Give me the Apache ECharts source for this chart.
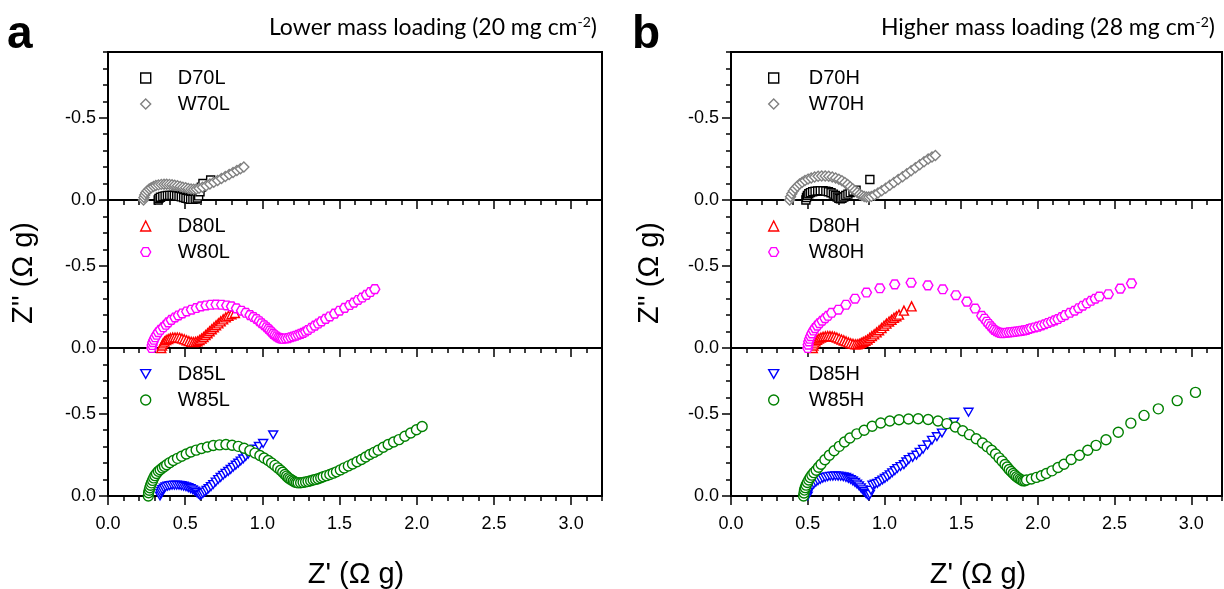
<!DOCTYPE html>
<html>
<head>
<meta charset="utf-8">
<script src="https://cdn.jsdelivr.net/npm/echarts@6/dist/echarts.min.js"></script>
<style>
html,body{margin:0;padding:0;background:#fff;}
#chart{width:1224px;height:589px;}
</style>
</head>
<body>
<div id="chart"></div>
<script>
// ---------- tick labels ----------
const X_MAJOR = [0, 0.5, 1.0, 1.5, 2.0, 2.5, 3.0];
const Y_MAJOR = [-0.5, 0];
const PANEL_TITLES = ['Lower mass loading (20 mg cm', 'Higher mass loading (28 mg cm'];
const X_TITLE = "Z' (\u03A9 g)";
const Y_TITLE = "Z'' (\u03A9 g)";

// ---------- series names ----------
const NAMES_A = [['D70L', 'W70L'], ['D80L', 'W80L'], ['D85L', 'W85L']];
const NAMES_B = [['D70H', 'W70H'], ['D80H', 'W80H'], ['D85H', 'W85H']];

// ---------- data [Z', Z''] ----------
const D70L = [[0.325,0],[0.33,-0.01],[0.34,-0.017],[0.355,-0.022],[0.37,-0.025],[0.385,-0.027],[0.40,-0.028],[0.415,-0.028],[0.43,-0.027],[0.445,-0.025],[0.46,-0.022],[0.475,-0.019],[0.49,-0.015],[0.505,-0.011],[0.52,-0.008],[0.535,-0.005],[0.55,-0.004],[0.565,-0.006],[0.578,-0.012],[0.587,-0.025],[0.596,-0.05],[0.605,-0.078],[0.615,-0.1],[0.665,-0.122]];
const W70L = [[0.23,0],[0.233,-0.015],[0.238,-0.03],[0.245,-0.044],[0.255,-0.056],[0.267,-0.067],[0.28,-0.075],[0.295,-0.082],[0.31,-0.088],[0.327,-0.092],[0.345,-0.095],[0.363,-0.096],[0.38,-0.096],[0.398,-0.095],[0.415,-0.093],[0.432,-0.09],[0.45,-0.086],[0.468,-0.082],[0.485,-0.078],[0.503,-0.074],[0.52,-0.07],[0.538,-0.067],[0.555,-0.066],[0.572,-0.067],[0.59,-0.071],[0.612,-0.078],[0.636,-0.087],[0.66,-0.097],[0.685,-0.108],[0.71,-0.119],[0.735,-0.131],[0.76,-0.143],[0.785,-0.155],[0.81,-0.167],[0.835,-0.179],[0.858,-0.19],[0.88,-0.2]];
const D80L = [[0.345,0],[0.35,-0.015],[0.357,-0.028],[0.366,-0.039],[0.377,-0.048],[0.39,-0.055],[0.404,-0.06],[0.419,-0.063],[0.434,-0.064],[0.449,-0.064],[0.464,-0.062],[0.479,-0.058],[0.494,-0.053],[0.509,-0.047],[0.524,-0.042],[0.539,-0.038],[0.553,-0.036],[0.567,-0.037],[0.58,-0.041],[0.593,-0.048],[0.606,-0.057],[0.619,-0.067],[0.632,-0.078],[0.645,-0.09],[0.658,-0.102],[0.672,-0.114],[0.686,-0.126],[0.7,-0.138],[0.715,-0.15],[0.73,-0.162],[0.746,-0.174],[0.763,-0.186],[0.78,-0.196],[0.8,-0.205],[0.822,-0.213]];
const W80L = [[0.283,0],[0.286,-0.018],[0.29,-0.035],[0.297,-0.05],[0.305,-0.065],[0.315,-0.08],[0.326,-0.096],[0.34,-0.111],[0.358,-0.126],[0.375,-0.141],[0.39,-0.156],[0.41,-0.171],[0.434,-0.186],[0.456,-0.198],[0.481,-0.21],[0.51,-0.222],[0.541,-0.233],[0.572,-0.243],[0.602,-0.253],[0.635,-0.259],[0.667,-0.263],[0.7,-0.264],[0.736,-0.263],[0.769,-0.259],[0.8,-0.253],[0.832,-0.241],[0.865,-0.227],[0.893,-0.214],[0.92,-0.2],[0.942,-0.188],[0.962,-0.176],[0.98,-0.163],[0.995,-0.15],[1.012,-0.138],[1.027,-0.126],[1.039,-0.116],[1.049,-0.106],[1.06,-0.096],[1.07,-0.086],[1.081,-0.078],[1.092,-0.07],[1.103,-0.064],[1.113,-0.06],[1.124,-0.057],[1.135,-0.056],[1.151,-0.058],[1.167,-0.06],[1.184,-0.065],[1.2,-0.07],[1.216,-0.075],[1.232,-0.08],[1.248,-0.086],[1.264,-0.092],[1.28,-0.1],[1.296,-0.11],[1.318,-0.123],[1.34,-0.136],[1.362,-0.149],[1.383,-0.162],[1.41,-0.177],[1.437,-0.192],[1.468,-0.209],[1.5,-0.227],[1.533,-0.244],[1.566,-0.261],[1.593,-0.276],[1.62,-0.292],[1.647,-0.307],[1.674,-0.323],[1.7,-0.34],[1.728,-0.358]];
const D85L = [[0.337,0],[0.34,-0.015],[0.345,-0.028],[0.352,-0.039],[0.362,-0.048],[0.373,-0.055],[0.386,-0.06],[0.4,-0.063],[0.415,-0.065],[0.43,-0.066],[0.445,-0.066],[0.46,-0.065],[0.475,-0.063],[0.49,-0.06],[0.505,-0.056],[0.52,-0.051],[0.535,-0.045],[0.549,-0.038],[0.562,-0.03],[0.574,-0.021],[0.585,-0.012],[0.595,-0.005],[0.605,-0.008],[0.615,-0.015],[0.627,-0.024],[0.639,-0.034],[0.652,-0.045],[0.667,-0.057],[0.682,-0.07],[0.698,-0.085],[0.714,-0.1],[0.73,-0.113],[0.746,-0.126],[0.762,-0.138],[0.779,-0.15],[0.795,-0.162],[0.811,-0.175],[0.828,-0.188],[0.844,-0.2],[0.86,-0.213],[0.876,-0.226],[0.892,-0.24],[0.908,-0.254],[0.93,-0.27],[0.951,-0.285],[0.978,-0.302],[1.005,-0.32],[1.07,-0.372]];
const W85L = [[0.261,0],[0.263,-0.02],[0.267,-0.035],[0.271,-0.05],[0.276,-0.065],[0.282,-0.08],[0.289,-0.095],[0.296,-0.11],[0.304,-0.124],[0.314,-0.137],[0.326,-0.15],[0.338,-0.16],[0.352,-0.17],[0.366,-0.18],[0.38,-0.19],[0.4,-0.203],[0.423,-0.216],[0.45,-0.229],[0.477,-0.242],[0.507,-0.255],[0.537,-0.268],[0.571,-0.279],[0.606,-0.289],[0.644,-0.298],[0.682,-0.307],[0.723,-0.311],[0.764,-0.313],[0.804,-0.309],[0.844,-0.302],[0.882,-0.29],[0.919,-0.276],[0.952,-0.261],[0.984,-0.246],[1.011,-0.231],[1.038,-0.216],[1.06,-0.201],[1.081,-0.186],[1.1,-0.171],[1.118,-0.157],[1.132,-0.144],[1.146,-0.131],[1.157,-0.121],[1.167,-0.111],[1.178,-0.104],[1.189,-0.097],[1.2,-0.091],[1.21,-0.085],[1.221,-0.082],[1.232,-0.08],[1.248,-0.081],[1.264,-0.083],[1.28,-0.086],[1.296,-0.089],[1.313,-0.093],[1.329,-0.097],[1.345,-0.101],[1.361,-0.105],[1.378,-0.111],[1.394,-0.117],[1.415,-0.124],[1.437,-0.131],[1.459,-0.139],[1.48,-0.147],[1.505,-0.159],[1.53,-0.171],[1.557,-0.183],[1.584,-0.195],[1.613,-0.208],[1.642,-0.222],[1.669,-0.237],[1.696,-0.252],[1.723,-0.265],[1.75,-0.278],[1.783,-0.296],[1.815,-0.313],[1.85,-0.328],[1.885,-0.343],[1.923,-0.363],[1.961,-0.383],[1.998,-0.403],[2.035,-0.423]];

const D70H = [[0.488,0],[0.492,-0.015],[0.498,-0.028],[0.507,-0.038],[0.518,-0.045],[0.532,-0.05],[0.548,-0.053],[0.565,-0.055],[0.582,-0.056],[0.6,-0.056],[0.618,-0.054],[0.635,-0.05],[0.652,-0.044],[0.667,-0.036],[0.68,-0.027],[0.692,-0.018],[0.703,-0.011],[0.713,-0.008],[0.723,-0.011],[0.735,-0.018],[0.748,-0.027],[0.762,-0.036],[0.777,-0.045],[0.795,-0.053],[0.815,-0.06],[0.905,-0.125]];
const W70H = [[0.382,0],[0.388,-0.02],[0.396,-0.038],[0.406,-0.055],[0.418,-0.07],[0.432,-0.084],[0.447,-0.097],[0.464,-0.108],[0.482,-0.118],[0.502,-0.127],[0.523,-0.134],[0.545,-0.14],[0.568,-0.144],[0.591,-0.146],[0.614,-0.146],[0.637,-0.144],[0.66,-0.14],[0.682,-0.134],[0.703,-0.126],[0.723,-0.117],[0.742,-0.106],[0.76,-0.094],[0.777,-0.081],[0.793,-0.068],[0.808,-0.056],[0.823,-0.045],[0.838,-0.035],[0.853,-0.027],[0.868,-0.021],[0.883,-0.018],[0.898,-0.018],[0.915,-0.022],[0.935,-0.03],[0.958,-0.042],[0.982,-0.056],[1.008,-0.072],[1.035,-0.089],[1.062,-0.106],[1.09,-0.124],[1.118,-0.142],[1.146,-0.16],[1.174,-0.178],[1.202,-0.196],[1.23,-0.214],[1.258,-0.232],[1.285,-0.25],[1.31,-0.262],[1.332,-0.27]];
const D80H = [[0.533,0],[0.537,-0.015],[0.543,-0.028],[0.551,-0.04],[0.561,-0.05],[0.573,-0.058],[0.586,-0.064],[0.6,-0.068],[0.615,-0.071],[0.63,-0.072],[0.645,-0.072],[0.66,-0.071],[0.675,-0.068],[0.69,-0.064],[0.705,-0.058],[0.72,-0.052],[0.735,-0.046],[0.75,-0.04],[0.765,-0.034],[0.78,-0.029],[0.795,-0.025],[0.81,-0.023],[0.823,-0.023],[0.836,-0.026],[0.849,-0.031],[0.862,-0.037],[0.876,-0.044],[0.89,-0.052],[0.904,-0.062],[0.918,-0.072],[0.933,-0.083],[0.949,-0.095],[0.965,-0.108],[0.981,-0.121],[0.997,-0.135],[1.013,-0.148],[1.03,-0.161],[1.046,-0.172],[1.062,-0.183],[1.078,-0.193],[1.095,-0.203],[1.127,-0.227],[1.177,-0.253]];
const W80H = [[0.5,0],[0.503,-0.02],[0.507,-0.04],[0.512,-0.056],[0.519,-0.072],[0.527,-0.089],[0.537,-0.106],[0.548,-0.121],[0.562,-0.136],[0.576,-0.151],[0.594,-0.166],[0.613,-0.181],[0.632,-0.196],[0.656,-0.214],[0.7,-0.233],[0.749,-0.263],[0.808,-0.3],[0.883,-0.337],[0.97,-0.363],[1.067,-0.387],[1.174,-0.397],[1.283,-0.381],[1.38,-0.357],[1.466,-0.321],[1.537,-0.282],[1.591,-0.24],[1.634,-0.196],[1.652,-0.178],[1.667,-0.16],[1.68,-0.146],[1.693,-0.132],[1.705,-0.12],[1.716,-0.11],[1.729,-0.102],[1.742,-0.096],[1.755,-0.092],[1.768,-0.09],[1.782,-0.091],[1.796,-0.093],[1.812,-0.095],[1.828,-0.096],[1.845,-0.098],[1.861,-0.1],[1.877,-0.102],[1.893,-0.104],[1.91,-0.107],[1.926,-0.11],[1.942,-0.115],[1.958,-0.12],[1.98,-0.125],[2.001,-0.13],[2.023,-0.137],[2.045,-0.144],[2.066,-0.152],[2.088,-0.16],[2.11,-0.168],[2.131,-0.176],[2.155,-0.188],[2.178,-0.2],[2.209,-0.214],[2.239,-0.227],[2.266,-0.242],[2.293,-0.257],[2.32,-0.272],[2.347,-0.287],[2.374,-0.3],[2.401,-0.313],[2.459,-0.327],[2.537,-0.361],[2.61,-0.393]];
const D85H = [[0.5,0],[0.504,-0.02],[0.51,-0.035],[0.518,-0.05],[0.528,-0.063],[0.54,-0.074],[0.553,-0.084],[0.567,-0.093],[0.582,-0.101],[0.598,-0.108],[0.614,-0.113],[0.63,-0.117],[0.647,-0.12],[0.664,-0.121],[0.681,-0.122],[0.698,-0.121],[0.715,-0.12],[0.732,-0.117],[0.749,-0.113],[0.765,-0.107],[0.78,-0.1],[0.794,-0.092],[0.808,-0.083],[0.821,-0.073],[0.834,-0.062],[0.846,-0.05],[0.857,-0.038],[0.868,-0.027],[0.878,-0.017],[0.888,-0.008],[0.897,-0.002],[0.905,-0.01],[0.912,-0.035],[0.922,-0.066],[0.938,-0.072],[0.954,-0.077],[0.97,-0.087],[0.987,-0.097],[1.003,-0.107],[1.019,-0.117],[1.035,-0.129],[1.051,-0.141],[1.068,-0.154],[1.084,-0.167],[1.105,-0.179],[1.127,-0.191],[1.143,-0.207],[1.159,-0.222],[1.184,-0.235],[1.209,-0.248],[1.23,-0.266],[1.252,-0.284],[1.281,-0.311],[1.31,-0.339],[1.342,-0.361],[1.375,-0.383],[1.455,-0.449],[1.548,-0.51]];
const W85H = [[0.473,0],[0.476,-0.018],[0.479,-0.036],[0.484,-0.051],[0.49,-0.066],[0.498,-0.082],[0.507,-0.097],[0.516,-0.112],[0.527,-0.127],[0.54,-0.142],[0.555,-0.157],[0.57,-0.175],[0.587,-0.193],[0.612,-0.22],[0.641,-0.248],[0.672,-0.275],[0.706,-0.302],[0.74,-0.328],[0.775,-0.353],[0.82,-0.378],[0.868,-0.4],[0.92,-0.424],[0.976,-0.444],[1.035,-0.456],[1.095,-0.464],[1.157,-0.468],[1.22,-0.47],[1.285,-0.465],[1.349,-0.456],[1.407,-0.44],[1.462,-0.42],[1.51,-0.397],[1.554,-0.373],[1.598,-0.348],[1.639,-0.322],[1.67,-0.3],[1.699,-0.278],[1.724,-0.255],[1.747,-0.232],[1.767,-0.212],[1.786,-0.192],[1.8,-0.176],[1.813,-0.161],[1.826,-0.149],[1.839,-0.137],[1.85,-0.127],[1.861,-0.117],[1.872,-0.11],[1.883,-0.103],[1.893,-0.097],[1.904,-0.092],[1.915,-0.093],[1.926,-0.097],[1.958,-0.103],[1.99,-0.113],[2.023,-0.123],[2.055,-0.137],[2.092,-0.153],[2.131,-0.173],[2.17,-0.193],[2.217,-0.222],[2.271,-0.248],[2.325,-0.278],[2.379,-0.308],[2.444,-0.342],[2.524,-0.388],[2.606,-0.443],[2.692,-0.49],[2.785,-0.53],[2.908,-0.58],[3.027,-0.63]];

// ---------- styling ----------
const FONT = 'Liberation Sans, Arial, sans-serif';
const HEX = 'path://M-1,0 L-0.5,-0.866 L0.5,-0.866 L1,0 L0.5,0.866 L-0.5,0.866 Z';
const TRI_DOWN = 'path://M0,0 L2,0 L1,1.732 Z';
const STYLE = {
  D70: {symbol: 'rect', size: 8, color: '#000000'},
  W70: {symbol: 'diamond', size: 10, color: '#808080'},
  D80: {symbol: 'triangle', size: 9, color: '#ff0000'},
  W80: {symbol: HEX, size: 10, color: '#ff00ff'},
  D85: {symbol: TRI_DOWN, size: 9, color: '#0000ff'},
  W85: {symbol: 'circle', size: 10, color: '#008000'}
};
const DATA = {D70L, W70L, D80L, W80L, D85L, W85L, D70H, W70H, D80H, W80H, D85H, W85H};

const PANEL_LEFT = [108, 731];
const PANEL_WIDTH = [494, 491];
const ROW_TOP = [52, 200, 348];
const ROW_H = 148;
const LEGEND_LEFT = [140, 768];
const LEGEND_PAD = [22, 25];

const grid = [], xAxis = [], yAxis = [], series = [], legend = [];
const PANEL_NAMES = [NAMES_A, NAMES_B];
let g = 0;
for (let p = 0; p < 2; p++) {
  for (let r = 0; r < 3; r++) {
    grid.push({left: PANEL_LEFT[p], top: ROW_TOP[r], width: PANEL_WIDTH[p], height: ROW_H,
      show: true, borderColor: '#000', borderWidth: 2, backgroundColor: 'transparent'});
    const isBottom = r === 2;
    xAxis.push({gridIndex: g, type: 'value', min: 0, max: 3.2, position: 'bottom',
      axisLine: {show: true, onZero: false, lineStyle: {color: '#000', width: 2}},
      axisTick: {show: true, inside: false, length: 9, customValues: X_MAJOR, lineStyle: {color: '#000', width: 1.5}},
      axisLabel: {show: isBottom, customValues: X_MAJOR, formatter: v => v.toFixed(1), margin: 19,
        fontFamily: FONT, fontSize: 18, color: '#000'},
      splitLine: {show: false}});
    xAxis.push({gridIndex: g, type: 'value', min: 0, max: 3.2, interval: 0.1, position: 'bottom',
      axisLine: {show: false, onZero: false},
      axisTick: {show: true, inside: false, length: 5, lineStyle: {color: '#000', width: 1.5}},
      axisLabel: {show: false}, splitLine: {show: false}});
    yAxis.push({gridIndex: g, type: 'value', min: -0.9, max: 0, inverse: true, position: 'left',
      axisLine: {show: true, onZero: false, lineStyle: {color: '#000', width: 2}},
      axisTick: {show: true, inside: false, length: 9, customValues: Y_MAJOR, lineStyle: {color: '#000', width: 1.5}},
      axisLabel: {show: true, customValues: Y_MAJOR, formatter: v => (v === 0 ? '0.0' : v.toFixed(1)), margin: 12,
        fontFamily: FONT, fontSize: 18, color: '#000'},
      splitLine: {show: false}});
    yAxis.push({gridIndex: g, type: 'value', min: -0.9, max: 0, interval: 0.1, inverse: true, position: 'left',
      axisLine: {show: false, onZero: false},
      axisTick: {show: true, inside: false, length: 5, lineStyle: {color: '#000', width: 1.5}},
      axisLabel: {show: false}, splitLine: {show: false}});
    const names = PANEL_NAMES[p][r];
    const legData = [];
    names.forEach((nm, k) => {
      const st = STYLE[nm.slice(0, 3)];
      series.push({type: 'scatter', name: nm, xAxisIndex: 2 * g, yAxisIndex: 2 * g,
        data: DATA[nm], symbol: st.symbol, symbolSize: st.size, symbolKeepAspect: true,
        itemStyle: {color: '#ffffff', borderColor: st.color, borderWidth: 1.4, opacity: 1},
        emphasis: {disabled: true}, z: 3 + k, animation: false});
      legData.push({name: nm, icon: st.symbol,
        itemStyle: {color: '#ffffff', borderColor: st.color, borderWidth: 1.4}});
    });
    legend.push({left: LEGEND_LEFT[p], top: ROW_TOP[r] + 16, orient: 'vertical', padding: 0,
      itemWidth: 10, itemHeight: 10, itemGap: 6, selectedMode: false,
      textStyle: {fontFamily: FONT, fontSize: 20, color: '#000', lineHeight: 20, padding: [0, 0, 0, LEGEND_PAD[p]]},
      data: legData});
    g++;
  }
}

const TITLE_RICH = {s: {fontSize: 14, fontFamily: 'Lato', verticalAlign: 'top', padding: [0, 0, 11, 0]}};
const graphic = [
  {type: 'text', left: 7, top: 12, style: {text: 'a', font: 'bold 46px ' + FONT, fill: '#000'}},
  {type: 'text', left: 632, top: 12, style: {text: 'b', font: 'bold 46px ' + FONT, fill: '#000'}},
  {type: 'text', x: 597, y: 28, style: {text: PANEL_TITLES[0] + '{s|-2})', align: 'right', verticalAlign: 'middle',
    font: '23px Lato', fill: '#000', rich: TITLE_RICH}},
  {type: 'text', x: 1215, y: 28, style: {text: PANEL_TITLES[1] + '{s|-2})', align: 'right', verticalAlign: 'middle',
    font: '23px Lato', fill: '#000', rich: TITLE_RICH}},
  {type: 'text', x: 356, y: 575, style: {text: X_TITLE, align: 'center', verticalAlign: 'middle', font: '29px ' + FONT, fill: '#000'}},
  {type: 'text', x: 978, y: 575, style: {text: X_TITLE, align: 'center', verticalAlign: 'middle', font: '29px ' + FONT, fill: '#000'}},
  {type: 'text', x: 24, y: 273, rotation: Math.PI / 2, style: {text: Y_TITLE, align: 'center', verticalAlign: 'middle', font: '29px ' + FONT, fill: '#000'}},
  {type: 'text', x: 650, y: 273, rotation: Math.PI / 2, style: {text: Y_TITLE, align: 'center', verticalAlign: 'middle', font: '29px ' + FONT, fill: '#000'}}
];

const chart = echarts.init(document.getElementById('chart'), null, {renderer: 'canvas'});
chart.setOption({animation: false, backgroundColor: '#fff', grid, xAxis, yAxis, series, legend, graphic});
</script>
</body>
</html>
